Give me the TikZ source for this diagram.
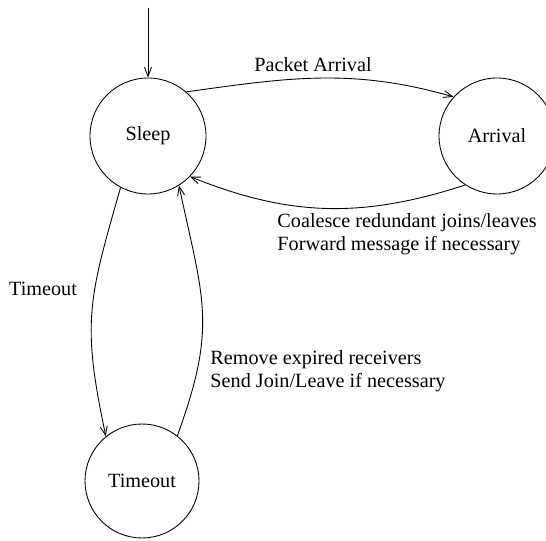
\documentclass[tikz,border=0pt]{standalone}
\usepackage{fontspec}
\setmainfont{Liberation Serif}
\usetikzlibrary{arrows.meta}
\begin{document}
\begin{tikzpicture}[>={Straight Barb[length=1.8mm, width=1.4mm]}, line width=0.5pt,
    state/.style={draw, circle, minimum size=2.32cm, inner sep=0pt},
    lbl/.style={inner sep=0pt, align=left, font=\fontsize{11.5}{13}\selectfont}]
    \useasboundingbox (0, 0) rectangle (10.92, 10.8);
    \begin{scope}
    \clip (0, 0) rectangle (10.92, 10.8);

    % States
    \node[state, font=\fontsize{11.5}{13}\selectfont] (sleep) at (2.96, 8.08) {Sleep};
    \node[state, font=\fontsize{11.5}{13}\selectfont] (arrival) at (9.94, 8.08) {Arrival};
    \node[state, minimum size=2.28cm, font=\fontsize{11.5}{13}\selectfont] (timeout) at (2.84, 1.18) {Timeout};

    % Start
    \coordinate (start) at (2.96, 10.64);
    \draw[->] (start) -- (sleep);

    % Transitions
    \draw[->] (sleep.49) to[out=8, in=164] (arrival.138);
    \draw[->] (arrival.237) to[out=198, in=-22] (sleep.316);
    \draw[->] (sleep.242) to[out=254, in=102, looseness=1.2] (timeout.129);
    \draw[->] (timeout.52) to[out=70, in=-78, looseness=1.2] (sleep.302);

    % Labels
    \node[lbl] (lpacket) at (6.26, 9.5) {Packet Arrival};
    \node[lbl, anchor=west] (lcoalesce) at (5.54, 6.12) {Coalesce redundant joins/leaves\\Forward message if necessary};
    \node[lbl] (ltimeout) at (0.86, 5.02) {Timeout};
    \node[lbl, anchor=west] (lremove) at (4.2, 3.37) {Remove expired receivers\\Send Join/Leave if necessary};
    \end{scope}
\end{tikzpicture}
\end{document}
